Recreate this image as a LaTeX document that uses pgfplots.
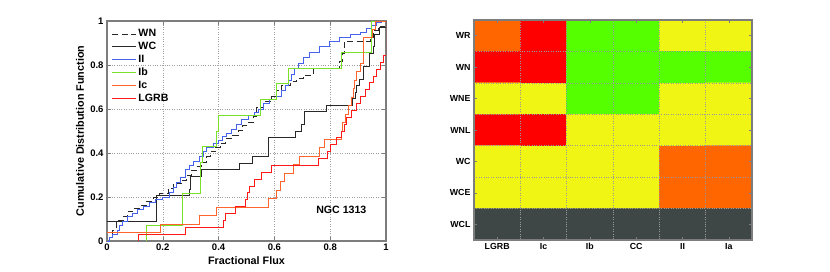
\documentclass[border=0pt]{standalone}
\usepackage{pgfplots}
\pgfplotsset{compat=1.18}
\usepackage{fontspec}
\setmainfont{Liberation Sans}
\definecolor{cblue}{RGB}{70,100,235}
\definecolor{cgreen}{RGB}{120,225,40}
\definecolor{corange}{RGB}{255,100,45}
\definecolor{cred}{RGB}{255,25,25}
\definecolor{cdark}{RGB}{40,40,40}
\definecolor{frame}{RGB}{125,125,125}
\begin{document}
\begin{tikzpicture}
\useasboundingbox (0pt,0pt) rectangle (830pt,271pt);
\begin{axis}[
  at={(107pt,30pt)}, anchor=south west,
  width=279pt, height=220pt, scale only axis,
  xmin=0, xmax=1, ymin=0, ymax=1,
  xtick={0,0.2,...,1}, ytick={0,0.2,...,1},
  xticklabels={0,0.2,0.4,0.6,0.8,1},
  yticklabels={0,0.2,0.4,0.6,0.8,1},
  tick align=inside, tick pos=both, major tick length=4pt,
  grid=major, grid style={dotted, gray!75, line width=0.6pt},
  axis line style={frame, line width=1.3pt},
  tick style={frame, line width=0.6pt},
  tick label style={font=\bfseries\fontsize{9.5}{11}\selectfont},
  /pgf/number format/assume math mode=true,
  xlabel={Fractional Flux}, ylabel={Cumulative Distribution Function},
  label style={font=\bfseries\fontsize{10.8}{12}\selectfont},
  xlabel style={at={(axis description cs:0.5,-0.09)}, anchor=center},
  ylabel style={at={(axis description cs:-0.097,0.5)}, anchor=center},
  xticklabel style={yshift=1pt},
  legend style={at={(rel axis cs:0.012,0.975)}, anchor=north west, draw=none, fill=none,
    font=\bfseries\fontsize{10.6}{13.4}\selectfont, row sep=0pt, inner sep=1pt},
  legend cell align=left,
  legend image code/.code={\draw[mark repeat=2,mark phase=2,#1] plot coordinates {(0pt,0pt) (12pt,0pt) (24pt,0pt)};},
]
\addplot[cdark, line width=0.95pt, const plot, dash pattern=on 6pt off 3.5pt] coordinates {
(0.01,0)(0.01,0.015)(0.02,0.05)(0.033,0.094)(0.06,0.112)(0.075,0.132)(0.093,0.147)(0.117,0.162)(0.141,0.18)(0.167,0.197)(0.187,0.215)(0.219,0.238)(0.237,0.26)(0.267,0.276)(0.285,0.298)(0.303,0.321)(0.321,0.339)(0.339,0.359)(0.356,0.382)(0.371,0.405)(0.39,0.427)(0.407,0.445)(0.426,0.465)(0.446,0.48)(0.47,0.503)(0.486,0.526)(0.506,0.541)(0.524,0.567)(0.536,0.609)(0.56,0.632)(0.59,0.655)(0.608,0.685)(0.626,0.708)(0.656,0.723)(0.679,0.738)(0.703,0.753)(0.739,0.785)(0.835,0.814)(0.843,0.852)(0.85,0.908)(0.943,0.927)(0.955,0.958)(0.972,0.973)(0.996,0.99)(1,1)};
\addlegendentry{WN}
\addplot[cdark, line width=0.95pt, const plot] coordinates {
(0,0.088)(0.177,0.206)(0.297,0.235)(0.299,0.265)(0.3,0.294)(0.339,0.324)(0.476,0.353)(0.52,0.382)(0.58,0.412)(0.58,0.441)(0.58,0.471)(0.677,0.5)(0.697,0.529)(0.706,0.559)(0.709,0.588)(0.787,0.618)(0.88,0.647)(0.89,0.676)(0.894,0.706)(0.906,0.735)(0.921,0.765)(0.921,0.794)(0.94,0.824)(0.94,0.853)(0.955,0.882)(0.958,0.912)(0.96,0.941)(0.975,0.971)(1.0,1.0)};
\addlegendentry{WC}
\addplot[cblue, line width=0.95pt, const plot] coordinates {
(0,0)(0.01,0.015)(0.02,0.03)(0.036,0.05)(0.043,0.07)(0.057,0.09)(0.074,0.11)(0.093,0.124)(0.111,0.142)(0.132,0.158)(0.153,0.173)(0.175,0.188)(0.2,0.2)(0.225,0.22)(0.237,0.245)(0.249,0.268)(0.263,0.29)(0.28,0.324)(0.297,0.344)(0.311,0.36)(0.33,0.382)(0.344,0.405)(0.356,0.427)(0.38,0.442)(0.398,0.458)(0.414,0.473)(0.428,0.49)(0.446,0.509)(0.464,0.53)(0.482,0.552)(0.506,0.571)(0.53,0.586)(0.542,0.6)(0.56,0.624)(0.584,0.642)(0.608,0.658)(0.626,0.685)(0.641,0.708)(0.651,0.73)(0.661,0.758)(0.673,0.783)(0.685,0.809)(0.703,0.836)(0.727,0.859)(0.763,0.882)(0.799,0.905)(0.835,0.924)(0.871,0.939)(0.907,0.95)(0.93,0.965)(0.949,0.98)(0.967,0.995)(0.984,1.0)(1,1)};
\addlegendentry{II}
\addplot[cgreen, line width=0.95pt, const plot] coordinates {
(0.14,0)(0.14,0.0714)(0.27,0.214)(0.336,0.357)(0.342,0.429)(0.394,0.5)(0.399,0.571)(0.551,0.643)(0.609,0.714)(0.651,0.786)(0.84,0.857)(0.947,1.0)(1,1)};
\addlegendentry{Ib}
\addplot[corange, line width=0.95pt, const plot] coordinates {
(0,0.038)(0.19,0.077)(0.33,0.115)(0.392,0.154)(0.579,0.192)(0.608,0.231)(0.62,0.269)(0.635,0.308)(0.667,0.346)(0.69,0.385)(0.763,0.423)(0.779,0.462)(0.841,0.5)(0.845,0.538)(0.853,0.577)(0.865,0.615)(0.877,0.654)(0.883,0.692)(0.887,0.731)(0.895,0.769)(0.907,0.808)(0.919,0.846)(0.92,0.885)(0.921,0.923)(0.951,0.962)(0.961,1.0)(1,1)};
\addlegendentry{Ic}
\addplot[cred, line width=0.95pt, const plot] coordinates {
(0.114,0)(0.114,0.031)(0.281,0.0625)(0.416,0.094)(0.425,0.125)(0.46,0.156)(0.495,0.1875)(0.505,0.219)(0.512,0.25)(0.53,0.281)(0.554,0.3125)(0.59,0.344)(0.757,0.375)(0.79,0.406)(0.8,0.4375)(0.823,0.469)(0.841,0.5)(0.85,0.531)(0.859,0.5625)(0.875,0.594)(0.895,0.625)(0.91,0.656)(0.925,0.6875)(0.94,0.719)(0.955,0.75)(0.965,0.781)(0.98,0.8125)(0.99,0.844)(1.0,1.0)};
\addlegendentry{LGRB}
\node[font=\bfseries\fontsize{10.6}{12}\selectfont] at (axis cs:0.84,0.14) {NGC 1313};
\end{axis}
\begin{axis}[
  at={(474pt,31pt)}, anchor=south west,
  width=278pt, height=220pt, scale only axis,
  xmin=-0.5, xmax=5.5, ymin=-0.5, ymax=6.5, y dir=reverse,
  enlargelimits=false, axis on top,
  xtick={0,...,5}, xticklabels={LGRB,Ic,Ib,CC,II,Ia},
  ytick={0,...,6}, yticklabels={WR,WN,WNE,WNL,WC,WCE,WCL},
  minor xtick={0.5,1.5,...,4.5}, minor ytick={0.5,1.5,...,5.5},
  xminorgrids, yminorgrids, minor tick length=0pt,
  minor grid style={dotted, gray!80, line width=0.5pt},
  tick align=inside, tick pos=both, major tick length=3pt,
  axis line style={frame, line width=1.3pt},
  tick style={frame, line width=0.6pt},
  tick label style={font=\bfseries\fontsize{8.8}{10}\selectfont},
  colormap={hm}{rgb255=(255,102,0) rgb255=(255,0,0) rgb255=(85,255,0) rgb255=(240,245,20) rgb255=(62,70,70)},
  colormap access=direct,
]
\addplot[matrix plot*, mesh/cols=6, point meta=explicit] table[meta=c] {
x y c
0 0 0
1 0 1
2 0 2
3 0 2
4 0 3
5 0 3
0 1 1
1 1 1
2 1 2
3 1 2
4 1 2
5 1 2
0 2 3
1 2 3
2 2 2
3 2 2
4 2 3
5 2 3
0 3 1
1 3 1
2 3 3
3 3 3
4 3 3
5 3 3
0 4 3
1 4 3
2 4 3
3 4 3
4 4 0
5 4 0
0 5 3
1 5 3
2 5 3
3 5 3
4 5 0
5 5 0
0 6 4
1 6 4
2 6 4
3 6 4
4 6 4
5 6 4
};
\end{axis}
\end{tikzpicture}
\end{document}
